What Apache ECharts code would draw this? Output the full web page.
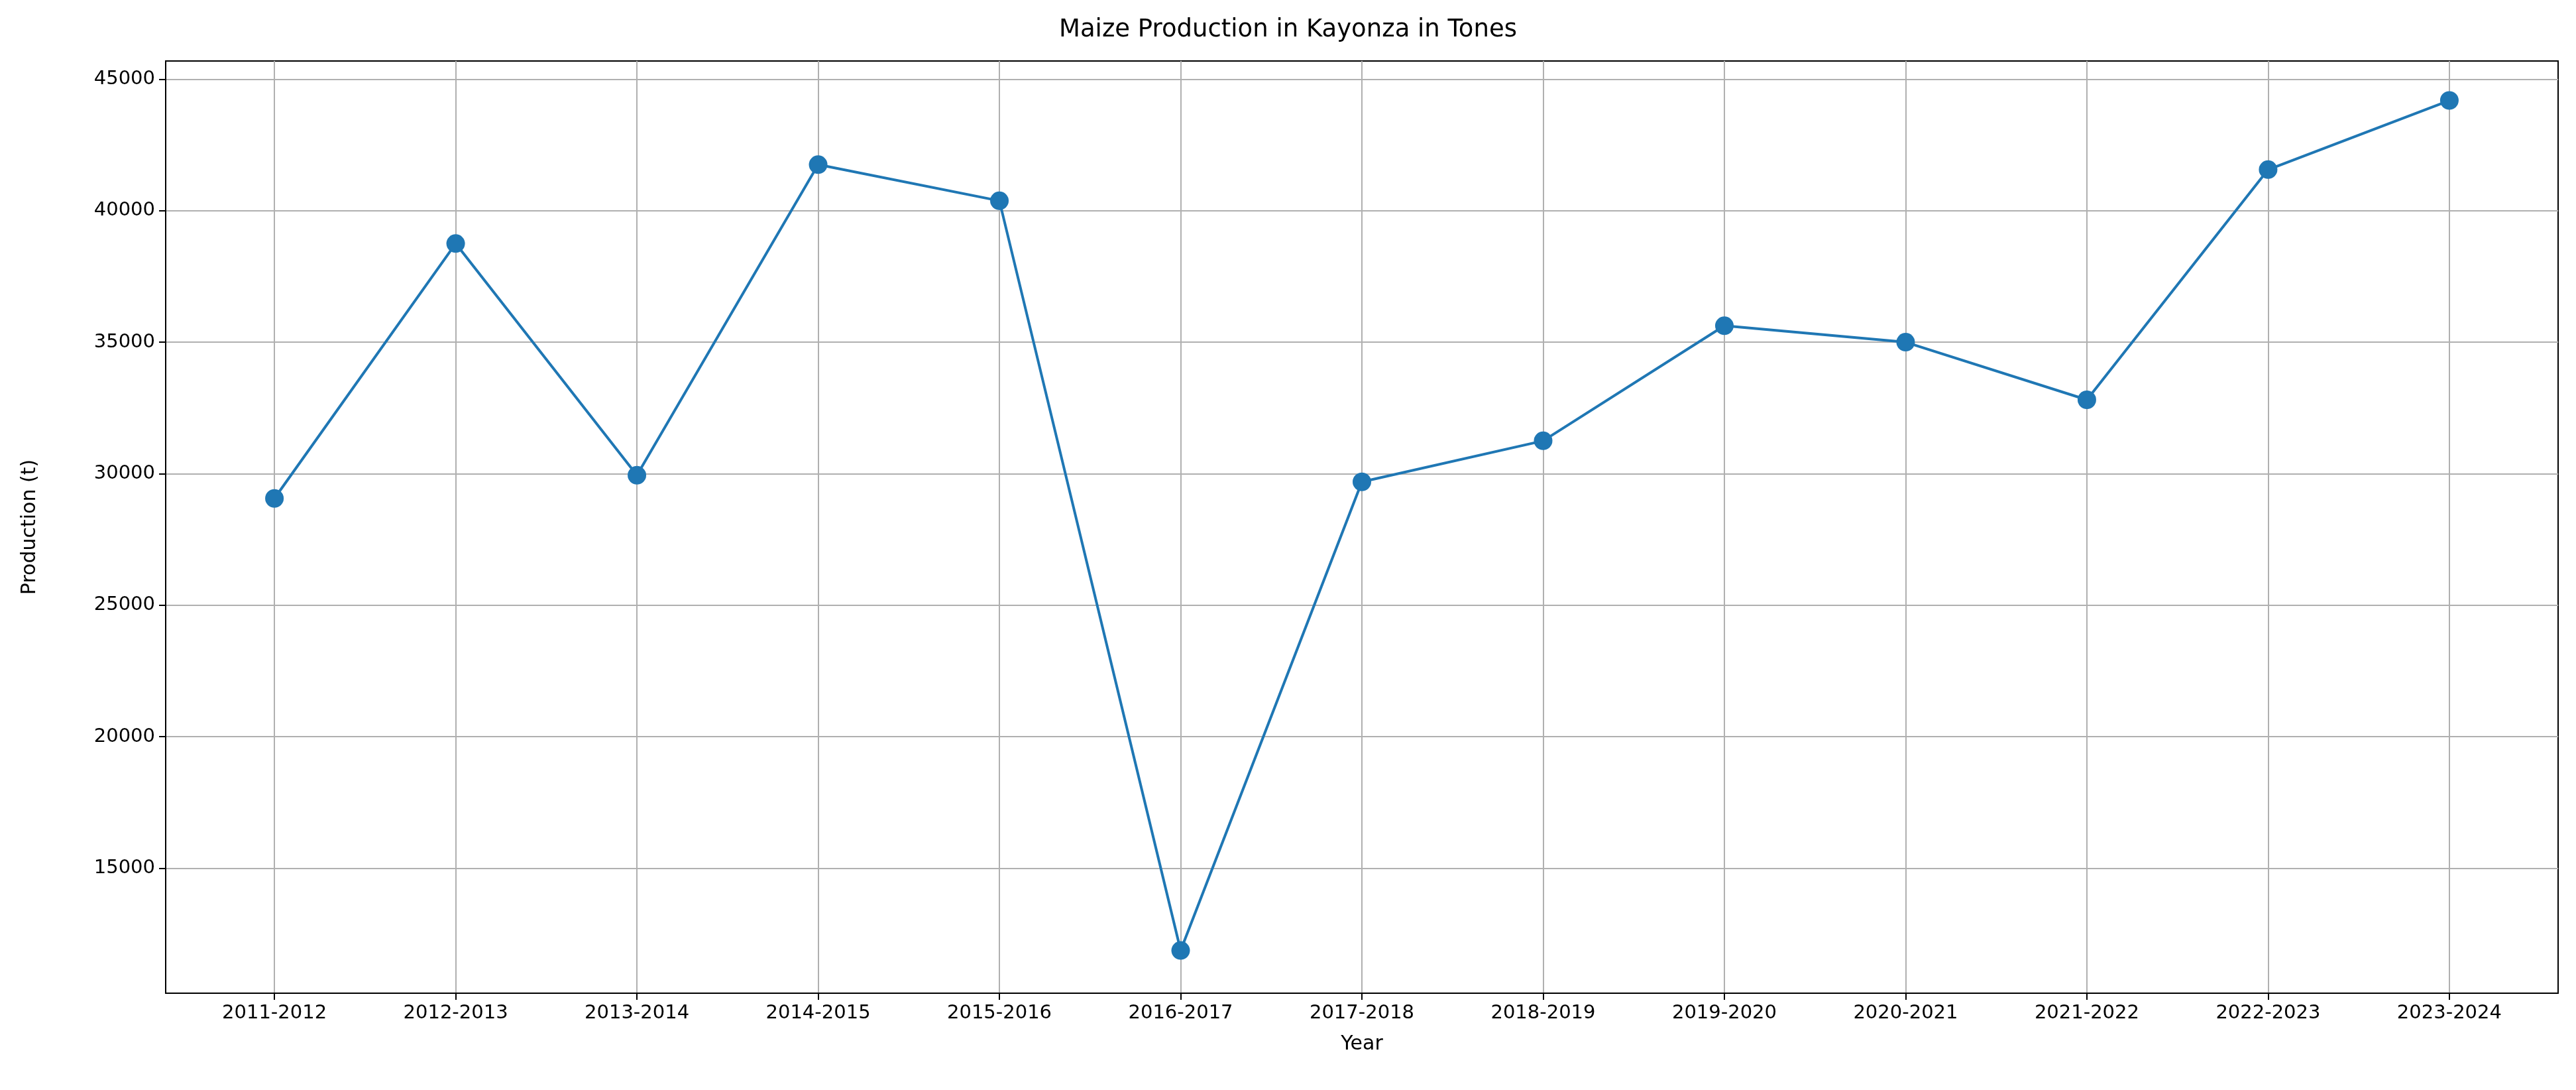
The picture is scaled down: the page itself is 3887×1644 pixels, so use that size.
<!DOCTYPE html>
<html>
<head>
<meta charset="utf-8">
<script src="https://cdn.jsdelivr.net/npm/echarts@6/dist/echarts.min.js"></script>
<style>html,body{margin:0;background:#fff}#main{width:3887px;height:1644px}</style>
</head>
<body>
<div id="main"></div>
<script>
var years = ['2011-2012','2012-2013','2013-2014','2014-2015','2015-2016','2016-2017','2017-2018',
             '2018-2019','2019-2020','2020-2021','2021-2022','2022-2023','2023-2024'];
var production = [29060, 38750, 29940, 41750, 40375, 11875, 29690, 31250, 35625, 35000, 32810, 41560, 44190];
var yTicks = [15000, 20000, 25000, 30000, 35000, 40000, 45000];

var idx = years.map(function (y, i) { return i; });
var font = 'DejaVu Sans';
var chart = echarts.init(document.getElementById('main'));
chart.setOption({
    animation: false,
    textStyle: {fontFamily: font},
    title: {text: 'Maize Production in Kayonza in Tones', left: 'center', top: 22,
        textStyle: {fontSize: 37, fontWeight: 'normal', color: '#000', fontFamily: font}},
    grid: {left: 250, right: 27, top: 92, bottom: 146, show: true, borderColor: '#000', borderWidth: 2},
    xAxis: {
        type: 'value', min: -0.6, max: 12.6,
        name: 'Year', nameLocation: 'middle', nameGap: 62,
        nameTextStyle: {fontSize: 30, color: '#000'},
        axisLine: {onZero: false, lineStyle: {color: '#000', width: 2}},
        axisTick: {customValues: idx, length: 10, lineStyle: {color: '#000', width: 2}},
        axisLabel: {customValues: idx, fontSize: 29, color: '#000', margin: 16,
            formatter: function (v) { return years[Math.round(v)]; }},
        splitLine: {show: true, lineStyle: {color: '#b0b0b0', width: 2}}
    },
    yAxis: {
        type: 'value', min: 10250, max: 45690,
        name: 'Production (t)', nameLocation: 'middle', nameGap: 190,
        nameTextStyle: {fontSize: 30, color: '#000'},
        axisLine: {show: true, onZero: false, lineStyle: {color: '#000', width: 2}},
        axisTick: {show: true, customValues: yTicks, length: 10, lineStyle: {color: '#000', width: 2}},
        axisLabel: {customValues: yTicks, fontSize: 29, color: '#000', margin: 16,
            formatter: function (v) { return String(v); }},
        splitLine: {show: true, lineStyle: {color: '#b0b0b0', width: 2}}
    },
    series: [{
        type: 'line',
        data: production.map(function (v, i) { return [i, v]; }),
        symbol: 'circle', symbolSize: 28,
        lineStyle: {color: '#1f77b4', width: 4},
        itemStyle: {color: '#1f77b4'}
    }]
});
</script>
</body>
</html>
